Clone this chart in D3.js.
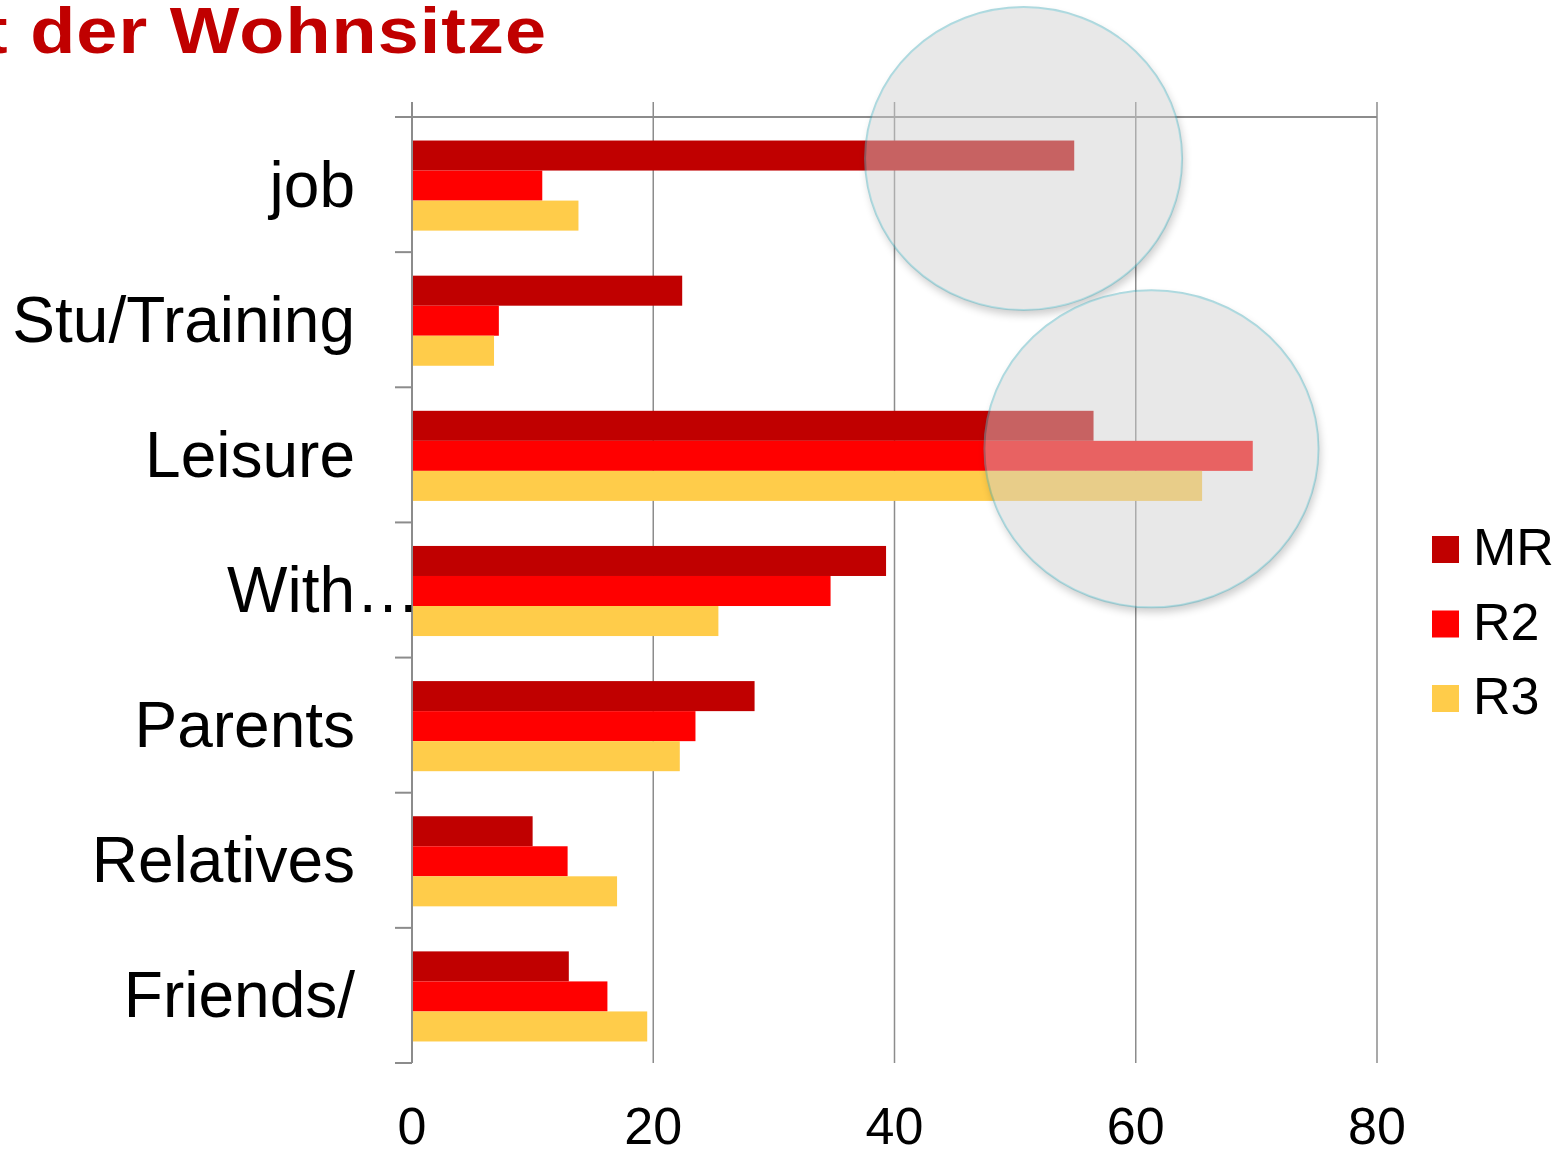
<!DOCTYPE html>
<meta charset="utf-8">
<style>
body { margin: 0; background: #fff; }
svg text { font-family: Arial, "Liberation Sans", sans-serif; fill: #000; }
.grid line { stroke: #8c8c8c; stroke-width: 1.5px; }
.axis line { stroke: #8c8c8c; stroke-width: 2px; }
</style>
<body>
<script src="https://d3js.org/d3.v7.min.js"></script>
<script>

// data
var categories = ["job", "Stu/Training", "Leisure", "With…", "Parents", "Relatives", "Friends/"];
var seriesNames = ["MR", "R2", "R3"];
var MR = [54.9, 22.4, 56.5, 39.3, 28.4, 10.0, 13.0];
var R2 = [10.8, 7.2, 69.7, 34.7, 23.5, 12.9, 16.2];
var R3 = [13.8, 6.8, 65.5, 25.4, 22.2, 17.0, 19.5];
var ticks = [0, 20, 40, 60, 80];
var colors = ["#C00000", "#FF0000", "#FFCC4A"];

// highlight ellipses (value-space centre, offset from band centre, radii px)
var highlights = [
  {cat: "Leisure", v: 61.3, dy: -6, rx: 167, ry: 158.5},
  {cat: "job", v: 50.7, dy: -26, rx: 158.5, ry: 151.5}
];

var width = 1568, height = 1151;

var svg = d3.select("body").append("svg")
    .attr("width", width)
    .attr("height", height);

var x = d3.scaleLinear()
    .domain([0, 80])
    .range([412, 1377]);

var y = d3.scaleBand()
    .domain(categories)
    .range([117, 1063])
    .padding(0);

var sub = d3.scaleBand()
    .domain(seriesNames)
    .range([0, y.bandwidth()])
    .paddingInner(0)
    .paddingOuter(0.75);

var table = categories.map(function(c, i) {
  return {cat: c, values: [MR[i], R2[i], R3[i]]};
});

// title (cut at the left edge)
svg.append("text")
    .attr("transform", "translate(-17,53) scale(1.055,0.92)")
    .style("font-size", "70px")
    .style("font-weight", "bold")
    .style("letter-spacing", "1px")
    .style("fill", "#C00000")
    .text("t der Wohnsitze");

// vertical gridlines
svg.append("g")
    .attr("class", "grid")
  .selectAll("line")
  .data(ticks.slice(1))
  .enter().append("line")
    .attr("x1", function(d) { return x(d); })
    .attr("x2", function(d) { return x(d); })
    .attr("y1", 102)
    .attr("y2", y.range()[1]);

// bars
var groups = svg.append("g")
    .attr("class", "bars")
  .selectAll("g")
  .data(table)
  .enter().append("g")
    .attr("transform", function(d) { return "translate(0," + (y(d.cat) + 1) + ")"; });

groups.selectAll("rect")
  .data(function(d) { return d.values.map(function(v, j) { return {s: seriesNames[j], v: v, j: j}; }); })
  .enter().append("rect")
    .attr("x", x(0) + 1)
    .attr("y", function(d) { return sub(d.s); })
    .attr("width", function(d) { return x(d.v) - x(0) - 1; })
    .attr("height", sub.bandwidth())
    .attr("fill", function(d) { return colors[d.j]; });

// axis lines
var axis = svg.append("g").attr("class", "axis");
axis.append("line")
    .attr("x1", x(0)).attr("x2", x(0))
    .attr("y1", 102).attr("y2", y.range()[1]);
axis.append("line")
    .attr("x1", x(0) - 17).attr("x2", x(80))
    .attr("y1", y.range()[0]).attr("y2", y.range()[0]);
axis.selectAll("line.tick")
  .data(categories.concat(["_end"]))
  .enter().append("line")
    .attr("class", "tick")
    .attr("x1", x(0) - 17).attr("x2", x(0))
    .attr("y1", function(d, i) { return y.range()[0] + i * y.step(); })
    .attr("y2", function(d, i) { return y.range()[0] + i * y.step(); });

// category labels
var labelX = 355;
var labels = svg.append("g").selectAll("g")
  .data(categories)
  .enter().append("g");

labels.append("text")
    .attr("x", labelX)
    .attr("y", function(d) { return y(d) + y.bandwidth() / 2 + 22; })
    .attr("text-anchor", "end")
    .style("font-size", "64px")
    .text(function(d) { return d.replace("…", ""); });

labels.filter(function(d) { return d.indexOf("…") >= 0; })
  .append("text")
    .attr("x", labelX + 1)
    .attr("y", function(d) { return y(d) + y.bandwidth() / 2 + 22; })
    .style("font-size", "64px")
    .text("…");

// value tick labels
svg.append("g").selectAll("text")
  .data(ticks)
  .enter().append("text")
    .attr("x", function(d) { return x(d); })
    .attr("y", 1144)
    .attr("text-anchor", "middle")
    .style("font-size", "52px")
    .text(function(d) { return d; });

// legend
var legend = svg.append("g").selectAll("g")
  .data(seriesNames)
  .enter().append("g")
    .attr("transform", function(d, i) { return "translate(1432," + (536 + i * 74.5) + ")"; });

legend.append("rect")
    .attr("width", 27)
    .attr("height", 27)
    .attr("fill", function(d, i) { return colors[i]; });

legend.append("text")
    .attr("x", 41)
    .attr("y", 29)
    .style("font-size", "52px")
    .text(function(d) { return d; });

// highlight ellipses
var defs = svg.append("defs");
defs.append("filter")
    .attr("id", "blur")
    .attr("x", "-20%").attr("y", "-20%")
    .attr("width", "140%").attr("height", "140%")
  .append("feGaussianBlur")
    .attr("stdDeviation", 4);

function cy(d) { return y(d.cat) + y.bandwidth() / 2 + d.dy; }

var mask = defs.append("mask").attr("id", "outside");
mask.append("rect")
    .attr("width", width).attr("height", height)
    .attr("fill", "#fff");
mask.selectAll("ellipse")
  .data(highlights)
  .enter().append("ellipse")
    .attr("cx", function(d) { return x(d.v); })
    .attr("cy", cy)
    .attr("rx", function(d) { return d.rx; })
    .attr("ry", function(d) { return d.ry; })
    .attr("fill", "#000");

svg.append("g")
    .attr("mask", "url(#outside)")
  .selectAll("ellipse")
  .data(highlights)
  .enter().append("ellipse")
    .attr("cx", function(d) { return x(d.v) + 2; })
    .attr("cy", function(d) { return cy(d) + 5; })
    .attr("rx", function(d) { return d.rx; })
    .attr("ry", function(d) { return d.ry; })
    .attr("fill", "#000")
    .attr("opacity", 0.2)
    .attr("filter", "url(#blur)");

svg.append("g")
    .attr("opacity", 0.475)
  .selectAll("ellipse")
  .data(highlights)
  .enter().append("ellipse")
    .attr("cx", function(d) { return x(d.v); })
    .attr("cy", cy)
    .attr("rx", function(d) { return d.rx; })
    .attr("ry", function(d) { return d.ry; })
    .attr("fill", "rgb(206,206,206)")
    .attr("stroke", "rgb(90,180,192)")
    .attr("stroke-width", 2);

</script>
</body>
